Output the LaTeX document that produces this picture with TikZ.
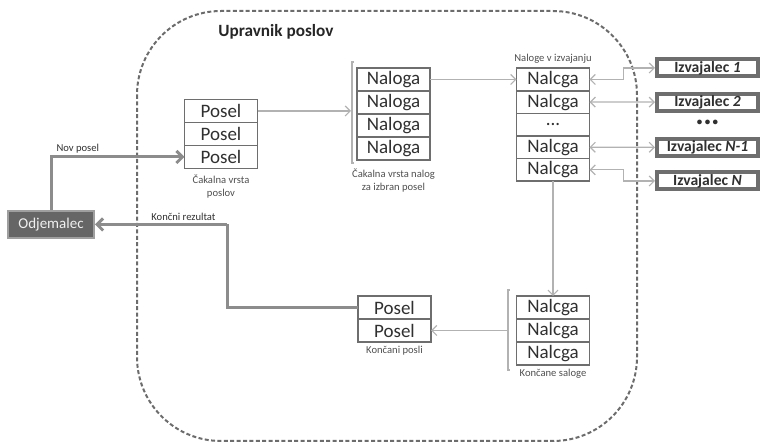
\documentclass[tikz,border=0pt]{standalone}
\usepackage{fontspec}
\setmainfont{Carlito}
\usepackage{xcolor}
\usepackage{tikz}
\usetikzlibrary{arrows.meta,positioning}

\definecolor{boxline}{HTML}{6E6E6E}
\definecolor{arrline}{HTML}{B2B2B2}
\definecolor{feedline}{HTML}{8C8C8C}
\definecolor{txtgray}{HTML}{303030}
\definecolor{clientfill}{HTML}{666666}

\begin{document}
\begin{tikzpicture}[
  x=0.5pt, y=-0.5pt,
  node distance=0pt,
  cell/.style={rectangle, draw=boxline, line width=0.75pt, fill=white,
    outer sep=0pt, inner sep=0pt, minimum width=36.5pt, minimum height=11.5pt,
    text=txtgray, font=\fontsize{9.5}{10}\selectfont},
  runcell/.style={cell, minimum height=11.3pt},
  caption/.style={align=center, inner sep=0pt, text=txtgray!85,
    font=\fontsize{5.3}{6.5}\selectfont},
  worker/.style={rectangle, draw=boxline, line width=2pt, fill=white,
    inner sep=0pt, minimum width=50.5pt, minimum height=8.5pt,
    text=txtgray, font=\bfseries\fontsize{7.8}{8}\selectfont},
  client/.style={rectangle, draw=gray!75, line width=1pt, fill=clientfill,
    inner sep=0pt, minimum width=43pt, minimum height=13.5pt,
    text=white!88!gray, font=\fontsize{7.5}{8}\selectfont},
  flow/.style={draw=arrline, line width=0.6pt, -{Straight Barb[length=2.5pt,width=5pt]}},
  both/.style={draw=arrline, line width=0.6pt,
    {Straight Barb[length=2.5pt,width=5pt]}-{Straight Barb[length=2.5pt,width=5pt]}},
  feed/.style={draw=feedline, line width=1.5pt, -{Straight Barb[length=3pt,width=6pt]}},
  label/.style={inner sep=1pt, text=txtgray, font=\fontsize{5.3}{6}\selectfont}
]
\useasboundingbox (0,0) rectangle (762,443);

% job manager boundary
\draw[draw=gray!85!black, line width=1pt, dash pattern=on 2pt off 1.2pt,
  rounded corners=42pt] (137,11) rectangle (637,441);
\node[anchor=west, inner sep=0pt, text=black!85,
  font=\bfseries\fontsize{8.6}{9}\selectfont] (title) at (218,32) {Upravnik poslov};

% waiting jobs
\node[cell] (p1) at (221,111) {Posel};
\node[cell, below=of p1] (p2) {Posel};
\node[cell, below=of p2] (p3) {Posel};
\node[caption, below=3pt of p3] (pcap) {Čakalna vrsta\\poslov};

% waiting tasks of the chosen job
\node[cell] (n1) at (393.5,79.5) {Naloga};
\node[cell, below=of n1] (n2) {Naloga};
\node[cell, below=of n2] (n3) {Naloga};
\node[cell, below=of n3] (n4) {Naloga};
\node[caption, below=4pt of n4] (ncap) {Čakalna vrsta nalog\\za izbran posel};
\draw[draw=arrline, line width=0.6pt] (354,62) -- (352,62) -- (352,163) -- (354,163);
\coordinate (njoin) at (351,111);

% running tasks
\node[runcell] (r1) at (553,79.5) {Nalcga};
\node[runcell, below=of r1] (r2) {Nalcga};
\node[runcell, below=of r2] (r3) {...};
\node[runcell, below=of r3] (r4) {Nalcga};
\node[runcell, below=of r4] (r5) {Nalcga};
\node[caption, above=2pt of r1] (rcap) {Naloge v izvajanju};

% workers
\node[worker] (w1) at (707.5,68) {Izvajalec \textit{1}};
\node[worker] (w2) at (707.5,102.1) {Izvajalec \textit{2}};
\node[inner sep=0pt, text=txtgray, font=\bfseries\fontsize{5.5}{6}\selectfont] (dots) at (707.5,123) {\textbullet\ \textbullet\ \textbullet};
\node[worker] (w3) at (707.5,147.3) {Izvajalec \textit{N-1}};
\node[worker] (w4) at (707.5,181) {Izvajalec \textit{N}};

% finished tasks
\node[cell] (d1) at (553,307.5) {Nalcga};
\node[cell, below=of d1] (d2) {Nalcga};
\node[cell, below=of d2] (d3) {Nalcga};
\node[caption, below=2pt of d3] (dcap) {Končane saloge};
\draw[draw=arrline, line width=0.6pt] (510,290) -- (508,290) -- (508,370) -- (510,370);
\coordinate (djoin) at (508,330.5);

% finished jobs
\node[cell] (k1) at (394.5,307.5) {Posel};
\node[cell, below=of k1] (k2) {Posel};
\node[caption, below=2pt of k2] (kcap) {Končani posli};

% client
\node[client] (odj) at (51,224.5) {Odjemalec};
\coordinate (turn) at (227,224.5);

% connectors
\draw[feed] (odj.north) |- (p3.west) node[label, pos=0.5, anchor=south west, xshift=1pt] {Nov posel};
\draw[flow] (p1.east) -- (njoin);
\draw[flow] (n1.east) -- (r1.west);
\draw[both] (r1.east) -- ++(34,0) |- (w1.west);
\draw[both] (r2.east) -- (w2.west);
\draw[both] (r4.east) -- (w3.west);
\draw[both] (r5.east) -- ++(34,0) |- (w4.west);
\draw[flow] (r5.south) -- (d1.north);
\draw[flow] (djoin) -- (k2.east);
\draw[feed, -] (k1.west) -| (turn);
\draw[feed] (turn) -- (odj.east) node[label, pos=0.33, above] {Končni rezultat};
\end{tikzpicture}
\end{document}
